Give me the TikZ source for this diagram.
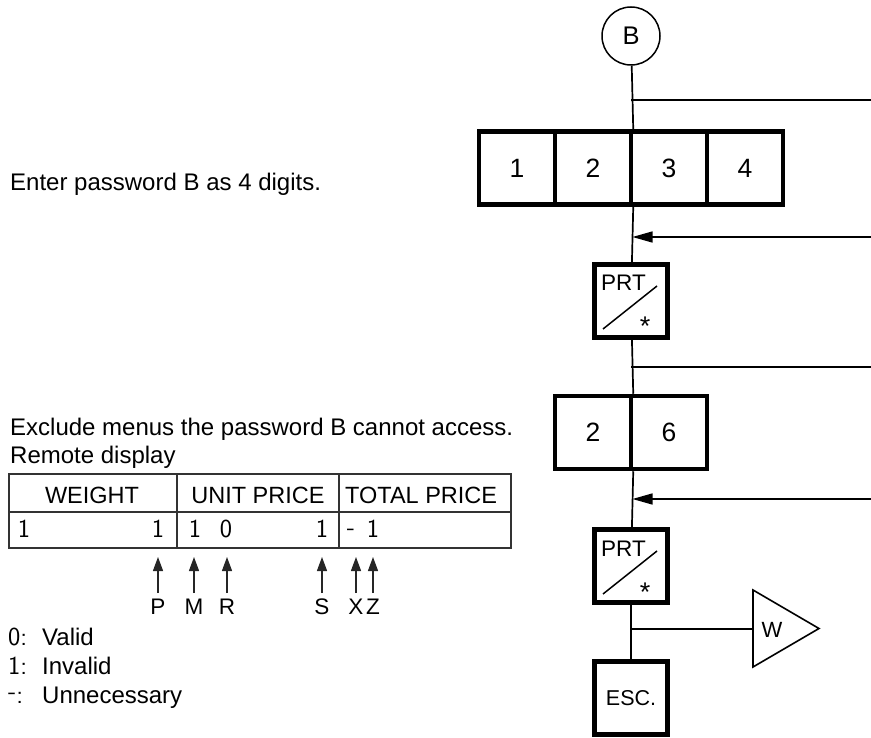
\documentclass[tikz,border=0pt]{standalone}
\usepackage{fontspec}
\setmainfont{Liberation Sans}
\usetikzlibrary{arrows.meta}
\begin{document}
\begin{tikzpicture}[x=1pt,y=-1pt,
  every node/.style={font=\fontsize{23.5}{28}\selectfont, inner sep=0pt},
  keybox/.style={draw, line width=4.5pt, fill=white, minimum width=76pt, minimum height=73pt, font=\fontsize{26.5}{30}\selectfont},
  sqkey/.style={keybox, minimum width=73pt},
  flow/.style={line width=1.7pt},
  thinline/.style={line width=1.5pt},
  tline/.style={line width=1.3pt, draw=black!80},
  digit/.style={font=\sffamily\fontsize{26}{30}\selectfont, anchor=base},
  lbl/.style={anchor=base west},
  bigtext/.style={lbl, font=\fontsize{24}{28}\selectfont},
  prtfont/.style={font=\fontsize{22.5}{26}\selectfont},
  starfont/.style={font=\fontsize{27}{30}\selectfont},
  inarrow/.style={line width=1.5pt, -{Triangle[length=20pt,width=11pt]}},
  uparrow/.style={line width=1.3pt, draw=black!85, -{Triangle[length=14pt,width=10pt]}}
]
\useasboundingbox (0,0) rectangle (871,738);

% ---------- flow chart (right) ----------
\node[draw, circle, line width=1.5pt, minimum size=58pt, font=\fontsize{25.5}{30}\selectfont] (B) at (631,36) {B};

\node[keybox] (k1) at (517,168) {1};
\node[keybox] (k2) at (593,168) {2};
\node[keybox] (k3) at (669,168) {3};
\node[keybox] (k4) at (745,168) {4};

\node[sqkey] (prt1) at (631,301) {};
\node[prtfont, lbl] (prt1t) at (601,291) {PRT};
\node[starfont, anchor=base] (prt1s) at (645,336) {*};
\draw[thinline] (603,329) -- (657,286);

\node[keybox] (k6a) at (593,432.5) {2};
\node[keybox] (k6b) at (669,432.5) {6};

\node[sqkey] (prt2) at (631,566) {};
\node[prtfont, lbl] (prt2t) at (601,556) {PRT};
\node[starfont, anchor=base] (prt2s) at (645,601) {*};
\draw[thinline] (603,594) -- (657,551);

\node[sqkey, font=\fontsize{21.5}{24}\selectfont] (esc) at (631,698) {ESC.};

% vertical connectors
\draw[flow] (B) -- (k2.north east);
\draw[flow] (k2.south east) -- (prt1);
\draw[flow] (prt1) -- (k6a.north east);
\draw[flow] (k6a.south east) -- (prt2);
\draw[flow] (prt2) -- (esc);

% branches to the right
\coordinate (j1) at (631,100);   \coordinate (e1) at (871,100);
\coordinate (j2) at (632.5,237); \coordinate (e2) at (871,237);
\coordinate (j3) at (631,367);   \coordinate (e3) at (871,367);
\coordinate (j4) at (632.5,499); \coordinate (e4) at (871,499);
\coordinate (j5) at (631,629);   \coordinate (wL) at (753,629);
\draw[thinline] (j1) -- (e1);
\draw[inarrow] (e2) -- (j2);
\draw[thinline] (j3) -- (e3);
\draw[inarrow] (e4) -- (j4);
\draw[thinline] (j5) -- (wL);
\draw[line width=1.6pt, line join=miter] (753,590) -- (819,628.5) -- (753,667) -- cycle;
\node[font=\fontsize{22}{26}\selectfont] (wt) at (772,629.5) {W};

% ---------- left texts ----------
\node[bigtext] (t1) at (10,191) {Enter password B as 4 digits.};
\node[bigtext] (t2) at (10,435) {Exclude menus the password B cannot access.};
\node[bigtext] (t3) at (10,463) {Remote display};

% table
\draw[tline] (9,474) rectangle (511,548);
\draw[tline] (9,512) -- (511,512);
\draw[tline] (177,474) -- (177,548);
\draw[tline] (339,474) -- (339,548);
\node[anchor=base] (h1) at (92,503) {WEIGHT};
\node[anchor=base] (h2) at (258,503) {UNIT PRICE};
\node[lbl] (h3) at (345,503) {TOTAL PRICE};

\node[digit] (d1) at (24,537) {1};
\node[digit] (d2) at (158,537) {1};
\node[digit] (d3) at (195,537) {1};
\node[digit] (d4) at (226,537) {0};
\node[digit] (d5) at (322,537) {1};
\node[digit] (d6) at (351,537) {\raisebox{2pt}{-}};
\node[digit] (d7) at (373,537) {1};

% pointer arrows
\foreach \n/\xx in {P/158, M/194, R/227, S/322, X/356, Z/373}{
  \coordinate (a\n0) at (\xx,593);
  \coordinate (a\n1) at (\xx,557);
  \draw[uparrow] (a\n0) -- (a\n1);
  \node[anchor=base, font=\fontsize{22.5}{26}\selectfont] (l\n) at (\xx,614) {\n};
}

% legend
\node[digit, anchor=base west] (z0) at (8,645) {0:};
\node[bigtext] (v0) at (42,645) {Valid};
\node[digit, anchor=base west] (z1) at (8,674) {1:};
\node[bigtext] (v1) at (42,674) {Invalid};
\node[digit, anchor=base west] (z2) at (8,703) {\raisebox{4pt}{-}:};
\node[bigtext] (v2) at (42,703) {Unnecessary};
\end{tikzpicture}
\end{document}
